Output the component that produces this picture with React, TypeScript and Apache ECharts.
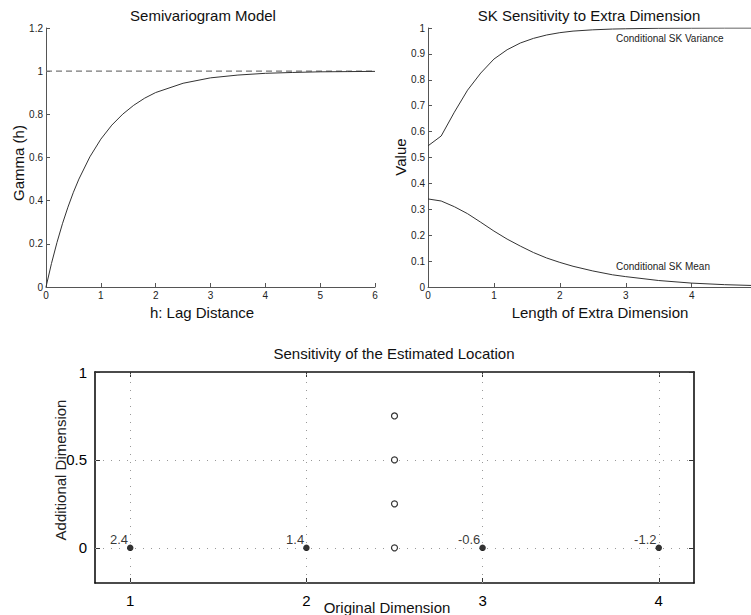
import React, { useEffect, useRef } from "react";
import * as echarts from "echarts";

// ---- Data ----
const semiH = [0, 0.1, 0.2, 0.3, 0.4, 0.5, 0.6, 0.8, 1.0, 1.2, 1.4, 1.6, 1.8, 2.0, 2.5, 3.0, 3.5, 4.0, 4.5, 5.0, 5.5, 6.0];
const semiGamma = [0, 0.109, 0.206, 0.293, 0.37, 0.439, 0.5, 0.603, 0.685, 0.75, 0.801, 0.842, 0.875, 0.901, 0.944, 0.969, 0.982, 0.99, 0.994, 0.997, 0.998, 0.999];
const sillH = [0, 6];
const sillValue = [1, 1];

const extraLen = [0, 0.2, 0.4, 0.6, 0.8, 1.0, 1.2, 1.4, 1.6, 1.8, 2.0, 2.2, 2.5, 2.8, 3.0, 3.5, 4.0, 4.5, 4.9];
const skVariance = [0.545, 0.583, 0.675, 0.76, 0.826, 0.88, 0.916, 0.942, 0.96, 0.973, 0.982, 0.988, 0.993, 0.996, 0.997, 0.999, 0.9995, 1.0, 1.0];
const skMean = [0.34, 0.332, 0.31, 0.283, 0.25, 0.216, 0.185, 0.158, 0.133, 0.112, 0.095, 0.08, 0.062, 0.047, 0.04, 0.025, 0.015, 0.009, 0.006];

const origDim = [1, 2, 3, 4];
const origAdd = [0, 0, 0, 0];
const pointLabels = ["2.4", "1.4", "-0.6", "-1.2"];
const estOrig = [2.5, 2.5, 2.5, 2.5];
const estAdd = [0, 0.25, 0.5, 0.75];

const topX1Ticks = [0, 1, 2, 3, 4];
const bottomXTicks = [1, 2, 3, 4];
const bottomYTicks = [0, 0.5, 1];

const FONT = '"Liberation Sans", Arial, Helvetica, sans-serif';

export default function App() {
  const ref = useRef<HTMLDivElement>(null);
  useEffect(() => {
    if (!ref.current) return;
    const chart = echarts.init(ref.current, null, { renderer: "svg" });
    const topAxisLine = { onZero: false, lineStyle: { color: "#555", width: 1 } };
    const topTick = { inside: true, length: 4, lineStyle: { color: "#555" } };
    const topLabel = { fontSize: 10, color: "#222", fontFamily: FONT, margin: 3 };
    const botLine = { show: true, onZero: false, lineStyle: { color: "#111", width: 1.6 } };
    const botTick = { inside: true, length: 5, lineStyle: { color: "#333", width: 1 } };

    const option: any = {
      animation: false,
      backgroundColor: "#fff",
      textStyle: { fontFamily: FONT },
      grid: [
        { left: 46, top: 28, width: 329, height: 259, containLabel: false },
        { left: 428, top: 28, width: 323, height: 259, containLabel: false },
        { left: 95, top: 372, width: 599, height: 211, containLabel: false },
      ],
      xAxis: [
        {
          gridIndex: 0, type: "value", min: 0, max: 6, interval: 1,
          axisLine: topAxisLine, axisTick: topTick, axisLabel: topLabel, splitLine: { show: false },
        },
        {
          gridIndex: 1, type: "value", min: 0, max: 4.9,
          axisLine: topAxisLine,
          axisTick: { ...topTick, customValues: topX1Ticks },
          axisLabel: { ...topLabel, customValues: topX1Ticks },
          splitLine: { show: false },
        },
        {
          gridIndex: 2, type: "value", min: 0.8, max: 4.2,
          axisLine: botLine,
          axisTick: { ...botTick, customValues: bottomXTicks },
          axisLabel: { fontSize: 15, color: "#000", fontFamily: FONT, margin: 10, customValues: bottomXTicks },
          splitLine: { show: false },
        },
        {
          gridIndex: 2, type: "value", min: 0.8, max: 4.2, position: "top",
          axisLine: botLine,
          axisTick: { ...botTick, customValues: bottomXTicks },
          axisLabel: { show: false },
          splitLine: { show: false },
        },
      ],
      yAxis: [
        {
          gridIndex: 0, type: "value", min: 0, max: 1.2, interval: 0.2,
          axisLine: { show: true, ...topAxisLine }, axisTick: { show: true, ...topTick }, axisLabel: topLabel,
          splitLine: { show: false },
        },
        {
          gridIndex: 1, type: "value", min: 0, max: 1, interval: 0.1,
          axisLine: { show: true, ...topAxisLine }, axisTick: { show: true, ...topTick }, axisLabel: topLabel,
          splitLine: { show: false },
        },
        {
          gridIndex: 2, type: "value", min: -0.2, max: 1,
          axisLine: botLine,
          axisTick: { show: true, ...botTick, customValues: bottomYTicks },
          axisLabel: { fontSize: 15, color: "#000", fontFamily: FONT, margin: 8, customValues: bottomYTicks },
          splitLine: { show: false },
        },
        {
          gridIndex: 2, type: "value", min: -0.2, max: 1, position: "right",
          axisLine: botLine,
          axisTick: { show: true, ...botTick, customValues: bottomYTicks },
          axisLabel: { show: false },
          splitLine: { show: false },
        },
      ],
      series: [
        {
          type: "line", xAxisIndex: 0, yAxisIndex: 0, showSymbol: false, symbol: "none",
          data: sillH.map((h, i) => [h, sillValue[i]]),
          lineStyle: { color: "#777", width: 1.2, type: [6, 4] }, z: 1,
        },
        {
          type: "line", xAxisIndex: 0, yAxisIndex: 0, showSymbol: false, symbol: "none",
          data: semiH.map((h, i) => [h, semiGamma[i]]),
          lineStyle: { color: "#333", width: 1 }, z: 2,
        },
        {
          type: "line", xAxisIndex: 1, yAxisIndex: 1, showSymbol: false, symbol: "none",
          data: extraLen.map((x, i) => [x, skVariance[i]]),
          lineStyle: { color: "#333", width: 1 },
        },
        {
          type: "line", xAxisIndex: 1, yAxisIndex: 1, showSymbol: false, symbol: "none",
          data: extraLen.map((x, i) => [x, skMean[i]]),
          lineStyle: { color: "#333", width: 1 },
        },
        {
          type: "scatter", xAxisIndex: 2, yAxisIndex: 2, symbol: "circle", symbolSize: 6.5,
          data: origDim.map((x, i) => ({ value: [x, origAdd[i]], name: pointLabels[i] })),
          itemStyle: { color: "#000" },
          label: {
            show: true, position: "left", distance: 0, offset: [1, -8],
            formatter: (p: any) => p.name, fontSize: 13, color: "#000", fontFamily: FONT,
            textBorderWidth: 0, textBorderColor: "transparent",
          },
          markLine: {
            silent: true, symbol: "none", label: { show: false },
            lineStyle: { color: "#999", width: 1, type: [1, 7] },
            data: [
              ...bottomXTicks.map((v) => ({ xAxis: v })),
              { yAxis: 0 }, { yAxis: 0.5 },
            ],
            z: 1,
          },
          z: 3,
        },
        {
          type: "scatter", xAxisIndex: 2, yAxisIndex: 2, symbol: "circle", symbolSize: 6,
          data: estOrig.map((x, i) => [x, estAdd[i]]),
          itemStyle: { color: "#fff", borderColor: "#000", borderWidth: 1.2 },
          z: 3,
        },
      ],
      graphic: [
        { type: "text", x: 203, y: 15, style: { text: "Semivariogram Model", fontSize: 15, fill: "#111", fontFamily: FONT, textAlign: "center", textVerticalAlign: "middle" } },
        { type: "text", x: 589, y: 15, style: { text: "SK Sensitivity to Extra Dimension", fontSize: 15, fill: "#111", fontFamily: FONT, textAlign: "center", textVerticalAlign: "middle" } },
        { type: "text", x: 202, y: 312, style: { text: "h: Lag Distance", fontSize: 15, fill: "#111", fontFamily: FONT, textAlign: "center", textVerticalAlign: "middle" } },
        { type: "text", x: 600, y: 312, style: { text: "Length of Extra Dimension", fontSize: 15, fill: "#111", fontFamily: FONT, textAlign: "center", textVerticalAlign: "middle" } },
        { type: "text", x: 18, y: 163, rotation: Math.PI / 2, style: { text: "Gamma (h)", fontSize: 15, fill: "#111", fontFamily: FONT, textAlign: "center", textVerticalAlign: "middle" } },
        { type: "text", x: 400, y: 157, rotation: Math.PI / 2, style: { text: "Value", fontSize: 15, fill: "#111", fontFamily: FONT, textAlign: "center", textVerticalAlign: "middle" } },
        { type: "text", x: 616, y: 38, style: { text: "Conditional SK Variance", fontSize: 10, fill: "#222", fontFamily: FONT, textAlign: "left", textVerticalAlign: "middle" } },
        { type: "text", x: 616, y: 266, style: { text: "Conditional SK Mean", fontSize: 10, fill: "#222", fontFamily: FONT, textAlign: "left", textVerticalAlign: "middle" } },
        { type: "text", x: 394, y: 353, style: { text: "Sensitivity of the Estimated Location", fontSize: 15, fill: "#111", fontFamily: FONT, textAlign: "center", textVerticalAlign: "middle" } },
        { type: "text", x: 387, y: 607, style: { text: "Original Dimension", fontSize: 15, fill: "#111", fontFamily: FONT, textAlign: "center", textVerticalAlign: "middle" } },
        { type: "text", x: 60, y: 470, rotation: Math.PI / 2, style: { text: "Additional Dimension", fontSize: 15, fill: "#222", fontFamily: FONT, textAlign: "center", textVerticalAlign: "middle" } },
      ],
    };
    chart.setOption(option);
    return () => chart.dispose();
  }, []);
  return (
    <div
      ref={ref}
      style={{ position: "fixed", left: 0, top: 0, width: 751, height: 615, background: "#fff" }}
    />
  );
}
